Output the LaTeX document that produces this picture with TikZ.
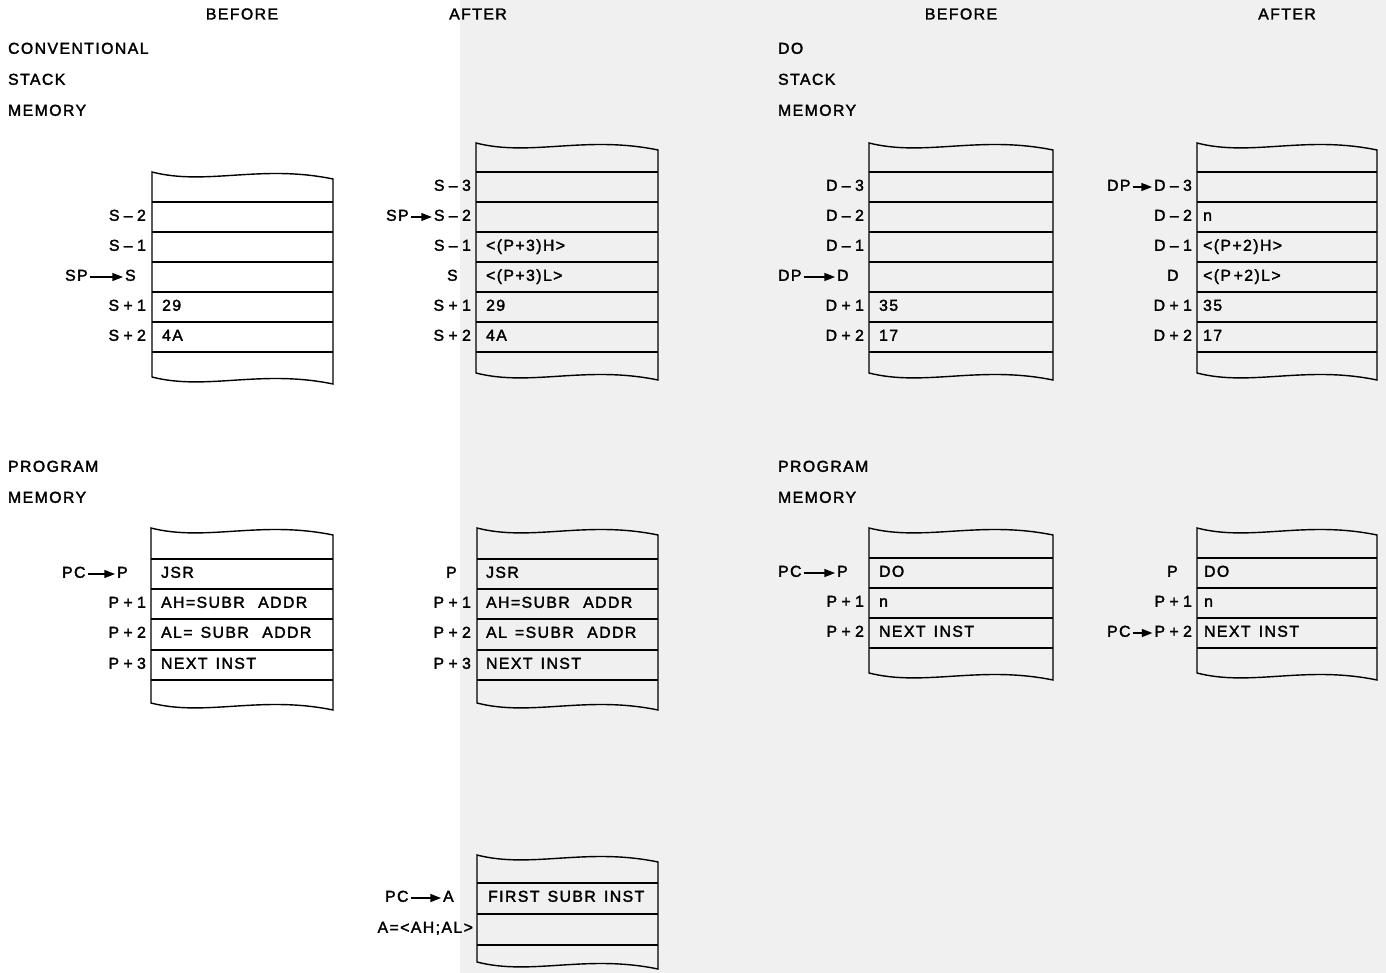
\documentclass[tikz,border=0pt]{standalone}
\usepackage{fontspec}
\newfontfamily\lettering[LetterSpace=9, FakeBold=2, WordSpace=1.4]{Liberation Sans}
\usetikzlibrary{arrows.meta}

% memory strip: left, right, top, bottom, inner rules
\newcommand\memstrip[5]{%
  \draw[frame] (#1,#3) .. controls ({#1+0.3*(#2-#1)},#3+14) and ({#1+0.6*(#2-#1)},#3-8) .. (#2,#3+7)
    -- (#2,#4+7) .. controls ({#1+0.6*(#2-#1)},#4-8) and ({#1+0.3*(#2-#1)},#4+14) .. (#1,#4) -- cycle;
  \foreach \r in {#5} \draw[frame] (#1,\r) -- (#2,\r);}

\begin{document}
\begin{tikzpicture}[
  x=0.02cm, y=-0.02cm,
  every node/.style={inner sep=1pt, font=\lettering\fontsize{9}{10}\selectfont},
  frame/.style={draw, line width=0.8pt},
  title/.style={anchor=mid west},
  lab/.style={anchor=mid east},
  tag/.style={anchor=mid west},
  cell/.style={anchor=mid west},
  ptr/.style={draw, line width=0.8pt, -{Triangle[length=6pt,width=4.5pt]}}]

  \useasboundingbox (0,0) rectangle (1386,973);
  \fill[black!6] (460,0) rectangle (1386,973);

  % ---- headings -----------------------------------------------------------
  \node (hb1) at (242,14)  {BEFORE};
  \node (ha1) at (478,14)  {AFTER};
  \node (hb2) at (961,14)  {BEFORE};
  \node (ha2) at (1287,14) {AFTER};

  \node[title] (t1) at (6,50)   {CONVENTIONAL};
  \node[title] (t2) at (6,81)   {STACK};
  \node[title] (t3) at (6,112)  {MEMORY};
  \node[title] (t4) at (776,50) {DO};
  \node[title] (t5) at (776,81) {STACK};
  \node[title] (t6) at (776,112){MEMORY};
  \node[title] (t7) at (6,468)  {PROGRAM};
  \node[title] (t8) at (6,499)  {MEMORY};
  \node[title] (t9) at (776,468){PROGRAM};
  \node[title] (t10) at (776,499){MEMORY};

  % ---- memory strips ------------------------------------------------------
  \memstrip{152}{333}{172}{377}{202,232,262,292,322,352}
  \memstrip{476}{658}{143}{373}{172,202,232,262,292,322,352}
  \memstrip{869}{1053}{143}{373}{172,202,232,262,292,322,352}
  \memstrip{1197}{1377}{143}{373}{172,202,232,262,292,322,352}
  \memstrip{151}{333}{528}{703}{559,589,619,650,680}
  \memstrip{477}{658}{528}{703}{559,589,619,650,680}
  \memstrip{869}{1053}{528}{673}{558,588,618,648}
  \memstrip{1197}{1377}{528}{673}{558,588,618,648}
  \memstrip{477}{658}{855}{962}{883,914,945}

  % ---- conventional stack, before -----------------------------------------
  \node[lab] (sa2) at (148,217) {S\;–\;2};
  \node[lab] (sa1) at (148,247) {S\;–\;1};
  \node[tag] (spa) at (63,277)  {SP};
  \node[tag] (sa0) at (123,277) {S};
  \node[lab] (sa3) at (148,307) {S\;+\;1};
  \node[lab] (sa4) at (148,337) {S\;+\;2};
  \node[cell] (ca1) at (160,307) {29};
  \node[cell] (ca2) at (160,337) {4A};
  \draw[ptr] (spa.mid east) -- (sa0.mid west);

  % ---- conventional stack, after ------------------------------------------
  \node[lab] (sb3) at (473,187) {S\;–\;3};
  \node[tag] (spb) at (384,217) {SP};
  \node[lab] (sb2) at (473,217) {S\;–\;2};
  \node[lab] (sb1) at (473,247) {S\;–\;1};
  \node[tag] (sb0) at (445,277) {S};
  \node[lab] (sb4) at (473,307) {S\;+\;1};
  \node[lab] (sb5) at (473,337) {S\;+\;2};
  \node[cell] (cb1) at (484,247) {<(P+3)H>};
  \node[cell] (cb2) at (484,277) {<(P+3)L>};
  \node[cell] (cb3) at (484,307) {29};
  \node[cell] (cb4) at (484,337) {4A};
  \draw[ptr] (spb.mid east) -- (sb2.mid west);

  % ---- DO stack, before ---------------------------------------------------
  \node[lab] (da3) at (866,187) {D\;–\;3};
  \node[lab] (da2) at (866,217) {D\;–\;2};
  \node[lab] (da1) at (866,247) {D\;–\;1};
  \node[tag] (dpa) at (776,277) {DP};
  \node[tag] (da0) at (835,277) {D};
  \node[lab] (da4) at (866,307) {D\;+\;1};
  \node[lab] (da5) at (866,337) {D\;+\;2};
  \node[cell] (cc1) at (877,307) {35};
  \node[cell] (cc2) at (877,337) {17};
  \draw[ptr] (dpa.mid east) -- (da0.mid west);

  % ---- DO stack, after ----------------------------------------------------
  \node[tag] (dpb) at (1105,187) {DP};
  \node[lab] (db3) at (1194,187) {D\;–\;3};
  \node[lab] (db2) at (1194,217) {D\;–\;2};
  \node[lab] (db1) at (1194,247) {D\;–\;1};
  \node[tag] (db0) at (1165,277) {D};
  \node[lab] (db4) at (1194,307) {D\;+\;1};
  \node[lab] (db5) at (1194,337) {D\;+\;2};
  \node[cell] (cd1) at (1201,217) {n};
  \node[cell] (cd2) at (1201,247) {<(P+2)H>};
  \node[cell] (cd3) at (1201,277) {<(P\,+2)L>};
  \node[cell] (cd4) at (1201,307) {35};
  \node[cell] (cd5) at (1201,337) {17};
  \draw[ptr] (dpb.mid east) -- (db3.mid west);

  % ---- program, JSR before ------------------------------------------------
  \node[tag] (pca) at (60,574)  {PC};
  \node[tag] (pa0) at (115,574) {P};
  \node[lab] (pa1) at (148,604) {P\;+\;1};
  \node[lab] (pa2) at (148,634) {P\;+\;2};
  \node[lab] (pa3) at (148,665) {P\;+\;3};
  \node[cell] (ce0) at (159,574) {JSR};
  \node[cell] (ce1) at (159,604) {AH=SUBR\hspace{3pt} ADDR};
  \node[cell] (ce2) at (159,634) {AL= SUBR\hspace{3pt} ADDR};
  \node[cell] (ce3) at (159,665) {NEXT INST};
  \draw[ptr] (pca.mid east) -- (pa0.mid west);

  % ---- program, JSR after -------------------------------------------------
  \node[tag] (pb0) at (444,574) {P};
  \node[lab] (pb1) at (473,604) {P\;+\;1};
  \node[lab] (pb2) at (473,634) {P\;+\;2};
  \node[lab] (pb3) at (473,665) {P\;+\;3};
  \node[cell] (cf0) at (484,574) {JSR};
  \node[cell] (cf1) at (484,604) {AH=SUBR\hspace{3pt} ADDR};
  \node[cell] (cf2) at (484,634) {AL =SUBR\hspace{3pt} ADDR};
  \node[cell] (cf3) at (484,665) {NEXT INST};

  % ---- program, DO before -------------------------------------------------
  \node[tag] (pcc) at (776,573) {PC};
  \node[tag] (pc0) at (835,573) {P};
  \node[lab] (pc1) at (866,603) {P\;+\;1};
  \node[lab] (pc2) at (866,633) {P\;+\;2};
  \node[cell] (cg0) at (877,573) {DO};
  \node[cell] (cg1) at (877,603) {n};
  \node[cell] (cg2) at (877,633) {NEXT INST};
  \draw[ptr] (pcc.mid east) -- (pc0.mid west);

  % ---- program, DO after --------------------------------------------------
  \node[tag] (pd0) at (1165,573) {P};
  \node[lab] (pd1) at (1194,603) {P\;+\;1};
  \node[tag] (pcd) at (1105,633) {PC};
  \node[lab] (pd2) at (1194,633) {P\;+\;2};
  \node[cell] (ch0) at (1202,573) {DO};
  \node[cell] (ch1) at (1202,603) {n};
  \node[cell] (ch2) at (1202,633) {NEXT INST};
  \draw[ptr] (pcd.mid east) -- (pd2.mid west);

  % ---- subroutine entry ---------------------------------------------------
  \node[tag] (pce) at (383,898) {PC};
  \node[tag] (ae0) at (441,898) {A};
  \node[lab] (ae1) at (475,929) {A=<AH;AL>};
  \node[cell] (ci0) at (486,898) {FIRST SUBR INST};
  \draw[ptr] (pce.mid east) -- (ae0.mid west);
\end{tikzpicture}
\end{document}
